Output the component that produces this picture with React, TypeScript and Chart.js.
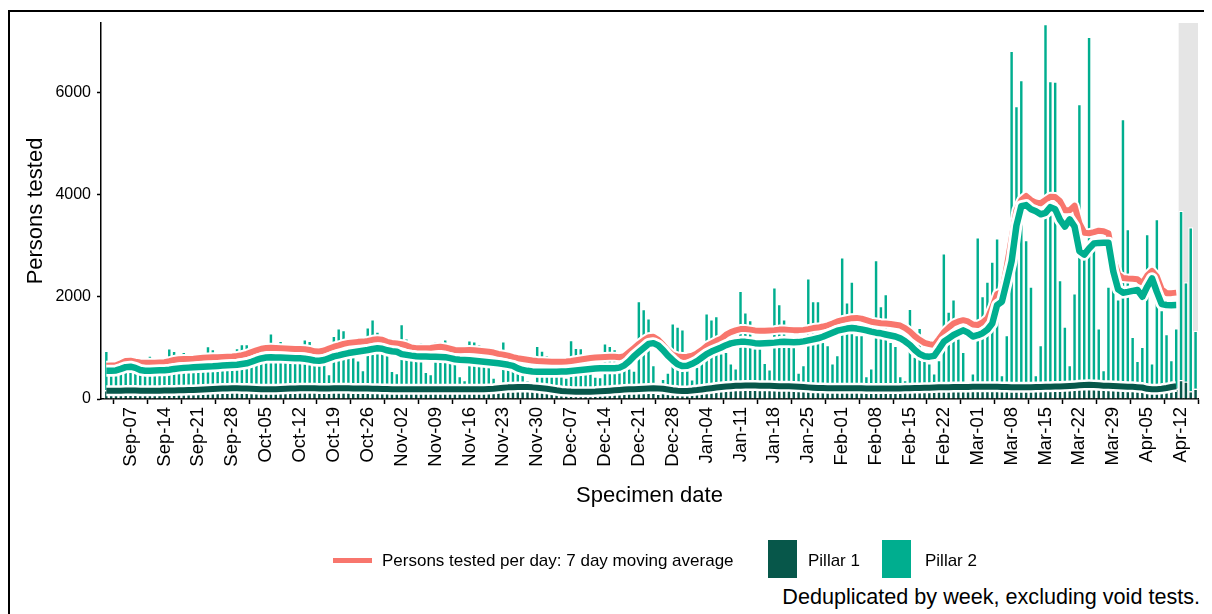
import React, { useEffect, useRef } from "react";
import { Chart, registerables } from "chart.js";

Chart.register(...registerables);

const FONT = "'Liberation Sans', Arial, sans-serif";
const SALMON = "#F8766D";
const TEAL = "#00AE8F";
const DARK = "#07574A";
const SHADE = "#E5E5E5";

const DAY_COUNT = 226; // day index 0 = 2020-09-02 .. 225 = 2021-04-15
const TICK_LABELS = [
  "Sep-07", "Sep-14", "Sep-21", "Sep-28", "Oct-05", "Oct-12", "Oct-19", "Oct-26",
  "Nov-02", "Nov-09", "Nov-16", "Nov-23", "Nov-30", "Dec-07", "Dec-14", "Dec-21",
  "Dec-28", "Jan-04", "Jan-11", "Jan-18", "Jan-25", "Feb-01", "Feb-08", "Feb-15",
  "Feb-22", "Mar-01", "Mar-08", "Mar-15", "Mar-22", "Mar-29", "Apr-05", "Apr-12",
];
const FIRST_TICK_INDEX = 5;
const TICK_STEP = 7;
const X_MIN = -1.1;
const X_MAX = 225.5;
const INCOMPLETE_FROM_INDEX = 222; // Apr-12 onwards shaded
const Y_TICKS = [0, 2000, 4000, 6000];
const Y_MAX = 7370;

// Daily persons tested, Pillar 1
const PILLAR1 = [
  170, 170, 170, 120, 110,
  180, 175, 170, 170, 165, 120, 110,
  180, 180, 180, 180, 175, 130, 120,
  200, 200, 200, 200, 195, 150, 140,
  220, 220, 215, 210, 205, 160, 150,
  210, 205, 205, 205, 205, 160, 150,
  225, 225, 225, 220, 220, 170, 160,
  225, 225, 225, 220, 215, 170, 160,
  220, 215, 210, 210, 205, 160, 150,
  205, 205, 205, 205, 205, 150, 140,
  205, 205, 205, 205, 205, 150, 140,
  210, 210, 210, 210, 210, 150, 140,
  245, 245, 245, 245, 245, 190, 180,
  220, 210, 200, 190, 180, 120, 110,
  160, 160, 160, 160, 160, 110, 100,
  180, 185, 190, 195, 200, 150, 140,
  220, 225, 230, 230, 100, 120, 110,
  180, 175, 175, 175, 100, 130, 130,
  240, 250, 255, 255, 255, 200, 190,
  280, 280, 280, 280, 280, 220, 210,
  270, 270, 265, 265, 260, 200, 190,
  240, 240, 235, 235, 230, 170, 160,
  225, 225, 225, 225, 225, 170, 160,
  220, 220, 220, 220, 220, 170, 160,
  230, 230, 235, 235, 235, 180, 170,
  250, 250, 250, 250, 250, 190, 180,
  255, 255, 255, 255, 255, 190, 180,
  250, 250, 250, 250, 250, 190, 180,
  260, 260, 260, 265, 265, 200, 190,
  290, 295, 295, 290, 285, 220, 210,
  270, 265, 265, 260, 255, 190, 180,
  210, 205, 205, 210, 230, 180, 200,
  370, 340, 150, 200,
];

// Daily persons tested, Pillar 2
const PILLAR2 = [
  777, 470, 460, 440, 430,
  680, 525, 520, 510, 685, 480, 450,
  540, 813, 767, 540, 752, 510, 480,
  560, 580, 839, 780, 565, 530, 510,
  580, 780, 863, 868, 840, 600, 570,
  868, 1082, 745, 938, 695, 600, 570,
  866, 945, 918, 660, 650, 550, 330,
  1016, 1160, 1127, 969, 785, 590, 408,
  1185, 1347, 1110, 870, 845, 395, 359,
  1265, 984, 745, 735, 906, 385, 350,
  925, 867, 965, 695, 675, 300, 232,
  940, 920, 862, 640, 620, 268, 167,
  885, 696, 535, 515, 475, 182, 170,
  825, 741, 662, 510, 500, 330, 310,
  996, 846, 840, 560, 540, 330, 330,
  911, 860, 790, 525, 500, 450, 420,
  1701, 1539, 1351, 436, 20, 278, 406,
  1303, 1243, 1191, 407, 286, 504, 582,
  1439, 1312, 1372, 640, 672, 499, 411,
  1843, 1419, 1268, 713, 713, 492, 372,
  1919, 1592, 1297, 760, 765, 316, 476,
  2125, 1681, 1686, 888, 828, 529, 702,
  2552, 1670, 2075, 1029, 1029, 281, 441,
  2504, 1603, 1838, 903, 825, 281, 212,
  1540, 600, 1163, 525, 464, 323, 594,
  2605, 1462, 1704, 939, 677, 150, 323,
  2914, 1764, 2045, 2437, 2895, 280, 1074,
  6577, 5493, 6002, 2866, 1952, 280, 878,
  7090, 5973, 5960, 2067, 1153, 466, 1881,
  5492, 2605, 6806, 2663, 1100, 348, 1992,
  2180, 1689, 5223, 3072, 966, 561, 845,
  3024, 495, 3323, 1534, 1044, 584, 1185,
  3321, 1947, 3215, 1139,
];

// 7 day moving averages (to 2021-04-11)
const MA_TOTAL = [
  650, 655, 660, 700, 745,
  750, 730, 715, 710, 710, 712, 715,
  720, 740, 765, 780, 785, 785, 790,
  800, 810, 815, 818, 820, 825, 830,
  835, 845, 860, 885, 920, 955, 985,
  1000, 1005, 1000, 995, 990, 985, 982,
  980, 975, 960, 935, 930, 950, 990,
  1025, 1050, 1080, 1100, 1110, 1120, 1125,
  1140, 1160, 1170, 1160, 1120, 1100, 1090,
  1075, 1050, 1010, 995, 993, 993, 1000,
  1015, 1025, 1010, 985, 960, 955, 958,
  960, 955, 945, 935, 925, 910, 885,
  870, 850, 820, 800, 785, 770, 755,
  745, 740, 735, 732, 730, 730, 735,
  745, 760, 775, 790, 805, 815, 820,
  822, 826, 828, 820, 840, 920, 1000,
  1080, 1150, 1210, 1220, 1160, 1060, 950,
  865, 835, 823, 830, 850, 895, 960,
  1040, 1090, 1140, 1180, 1260, 1310, 1345,
  1370, 1370, 1360, 1345, 1340, 1340, 1345,
  1350, 1360, 1360, 1355, 1350, 1350, 1355,
  1370, 1390, 1400, 1420, 1445, 1480, 1520,
  1545, 1565, 1585, 1590, 1575, 1545, 1515,
  1500, 1485, 1480, 1470, 1455, 1440, 1390,
  1320, 1230, 1160, 1100, 1075, 1058, 1180,
  1310, 1400, 1480, 1520, 1545, 1520, 1460,
  1450, 1500, 1580, 1800, 2060, 2100, 2600,
  3150, 3700, 3900, 3980, 3900, 3850, 3835,
  3900, 3965, 3960, 3880, 3700, 3700, 3790,
  3450, 3260, 3250, 3270, 3300, 3290, 3250,
  2750, 2450, 2370, 2360, 2355, 2346, 2267,
  2420, 2510, 2400, 2150, 2075, 2075, 2085,
];

const MA_PILLAR2 = [
  555, 555, 560, 590, 625,
  633, 610, 570, 555, 555, 560, 562,
  565, 575, 590, 600, 610, 615, 620,
  625, 630, 635, 640, 648, 655, 660,
  665, 672, 685, 700, 730, 765, 795,
  812, 817, 815, 812, 808, 805, 800,
  797, 790, 775, 755, 750, 765, 800,
  835, 855, 880, 900, 915, 930, 945,
  960, 980, 993, 985, 955, 935, 925,
  880, 865, 850, 840, 835, 833, 830,
  828, 825, 820, 800, 780, 770, 764,
  760, 750, 740, 730, 720, 712, 700,
  685, 670, 650, 600, 568, 552, 540,
  535, 535, 535, 535, 535, 537, 540,
  550, 560, 570, 580, 590, 598, 601,
  601, 601, 602, 615, 660, 740, 840,
  920, 1000, 1080, 1095, 1050, 960, 850,
  760, 680, 645, 650, 690, 740, 810,
  880, 930, 970, 1010, 1055, 1090, 1110,
  1120, 1120, 1110, 1095, 1090, 1095, 1100,
  1105, 1115, 1120, 1115, 1110, 1115, 1130,
  1150, 1170, 1190, 1220, 1260, 1300, 1340,
  1360, 1380, 1392, 1380, 1365, 1345, 1320,
  1300, 1287, 1265, 1245, 1225, 1189, 1130,
  1058, 960, 880, 840, 830, 845, 980,
  1123, 1190, 1254, 1300, 1345, 1300, 1225,
  1250, 1290, 1360, 1480, 1842, 1910, 2300,
  2700, 3400, 3780, 3800, 3720, 3680, 3620,
  3650, 3760, 3720, 3510, 3380, 3520, 3380,
  2900, 2830, 2950, 3050, 3060, 3064, 3064,
  2500, 2150, 2084, 2100, 2120, 2136, 2005,
  2200, 2365, 2100, 1860, 1842, 1840, 1842,
];

const MA_PILLAR1 = [
  160, 160, 162, 163, 165,
  168, 165, 163, 162, 162, 163, 163,
  165, 166, 168, 170, 172, 175, 178,
  182, 186, 190, 195, 200, 205, 208,
  210, 210, 208, 205, 200, 195, 192,
  190, 190, 192, 195, 200, 205, 208,
  210, 210, 210, 209, 208, 208, 208,
  209, 210, 210, 209, 208, 207, 206,
  205, 203, 200, 198, 195, 192, 190,
  190, 190, 190, 190, 190, 190, 190,
  190, 190, 190, 191, 192, 192, 192,
  192, 192, 192, 192, 195, 200, 210,
  220, 228, 232, 235, 235, 233, 228,
  220, 210, 200, 185, 170, 158, 150,
  145, 143, 142, 142, 143, 145, 150,
  155, 162, 170, 178, 185, 190, 192,
  195, 200, 205, 210, 208, 200, 185,
  170, 160, 157, 158, 165, 175, 188,
  200, 212, 225, 235, 245, 252, 258,
  262, 264, 265, 264, 262, 260, 258,
  255, 252, 250, 248, 245, 240, 235,
  228, 222, 218, 215, 212, 210, 210,
  210, 210, 210, 210, 210, 208, 206,
  205, 205, 205, 206, 207, 208, 210,
  212, 215, 218, 220, 222, 225, 228,
  230, 232, 234, 235, 236, 237, 238,
  240, 240, 240, 240, 238, 236, 235,
  232, 230, 230, 230, 232, 234, 236,
  238, 240, 243, 246, 250, 255, 262,
  270, 276, 278, 275, 268, 262, 258,
  255, 250, 246, 242, 238, 232, 225,
  200, 192, 190, 200, 215, 235, 250,
];

const TICK_INDICES = TICK_LABELS.map((_, k) => FIRST_TICK_INDEX + k * TICK_STEP);
const toPoints = (arr: number[]) => arr.map((y, i) => ({ x: i, y }));

const shadePlugin = {
  id: "incompleteShade",
  beforeDatasetsDraw(chart: any) {
    const { ctx, chartArea, scales } = chart;
    const left = scales.x.getPixelForValue(INCOMPLETE_FROM_INDEX - 0.5);
    ctx.save();
    ctx.fillStyle = SHADE;
    ctx.fillRect(left, chartArea.top, chartArea.right - left, chartArea.bottom - chartArea.top - 1);
    ctx.restore();
  },
};

function lineSet(label: string, data: number[], color: string, width: number, stack: string, order: number) {
  return {
    type: "line" as const,
    label,
    data: toPoints(data),
    borderColor: color,
    backgroundColor: color,
    borderWidth: width,
    pointRadius: 0,
    pointHoverRadius: 0,
    tension: 0,
    borderJoinStyle: "round" as const,
    borderCapStyle: "butt" as const,
    fill: false,
    stack,
    order,
  };
}

export default function App() {
  const ref = useRef<HTMLCanvasElement | null>(null);

  useEffect(() => {
    if (!ref.current) return;
    const barCommon = {
      type: "bar" as const,
      barPercentage: 1,
      categoryPercentage: 1,
      borderColor: "#FFFFFF",
      borderWidth: 1.2,
      borderSkipped: "start" as const,
      inflateAmount: 0,
      stack: "bars",
    };
    const chart = new Chart(ref.current, {
      type: "bar",
      data: {
        datasets: [
          { ...barCommon, label: "Pillar 1", data: toPoints(PILLAR1), backgroundColor: DARK, order: 10 },
          { ...barCommon, label: "Pillar 2", data: toPoints(PILLAR2), backgroundColor: TEAL, order: 11 },
          lineSet("halo-total", MA_TOTAL, "#FFFFFF", 10, "l1", 6),
          lineSet("Persons tested per day: 7 day moving average", MA_TOTAL, SALMON, 6, "l2", 5),
          lineSet("halo-p2", MA_PILLAR2, "#FFFFFF", 12, "l3", 4),
          lineSet("Pillar 2 moving average", MA_PILLAR2, TEAL, 6.5, "l4", 3),
          lineSet("halo-p1", MA_PILLAR1, "#FFFFFF", 11, "l5", 2),
          lineSet("Pillar 1 moving average", MA_PILLAR1, DARK, 6, "l6", 1),
        ] as any,
      },
      options: {
        animation: false,
        responsive: false,
        maintainAspectRatio: false,
        layout: { padding: { top: 11, right: 10, left: 0, bottom: 0 } },
        plugins: { legend: { display: false }, tooltip: { enabled: false } },
        scales: {
          x: {
            type: "linear",
            stacked: true,
            min: X_MIN,
            max: X_MAX,
            offset: false,
            afterBuildTicks: (s: any) => {
              s.ticks = TICK_INDICES.map((v) => ({ value: v }));
            },
            grid: {
              display: true,
              drawOnChartArea: false,
              drawTicks: true,
              tickLength: 5,
              tickColor: "#000",
              tickWidth: 1.5,
            },
            border: { display: true, color: "#000", width: 1.5 },
            ticks: {
              autoSkip: false,
              maxRotation: 90,
              minRotation: 90,
              color: "#000",
              padding: 3,
              font: { family: FONT, size: 18.5 },
              callback: (v: any) => TICK_LABELS[Math.round((v - FIRST_TICK_INDEX) / TICK_STEP)],
            },
            title: {
              display: true,
              text: "Specimen date",
              color: "#000",
              font: { family: FONT, size: 22 },
              padding: { top: 0, bottom: 33 },
            },
            afterFit: (s: any) => {
              s.height = 143;
              s.paddingLeft = 0;
              s.paddingRight = 0;
            },
          },
          y: {
            stacked: true,
            min: 0,
            max: Y_MAX,
            afterBuildTicks: (s: any) => {
              s.ticks = Y_TICKS.map((v) => ({ value: v }));
            },
            grid: {
              display: true,
              drawOnChartArea: false,
              drawTicks: true,
              tickLength: 4,
              tickColor: "#000",
              tickWidth: 1.5,
            },
            border: { display: true, color: "#000", width: 1.5 },
            ticks: {
              color: "#000",
              padding: 6,
              font: { family: FONT, size: 16 },
              callback: (v: any) => String(v),
            },
            title: {
              display: true,
              text: "Persons tested",
              color: "#000",
              font: { family: FONT, size: 22 },
              padding: { top: 13, bottom: 0 },
            },
            afterFit: (s: any) => {
              s.width = 91;
              s.paddingTop = 0;
              s.paddingBottom = 0;
            },
          },
        },
      } as any,
      plugins: [shadePlugin],
    });
    return () => chart.destroy();
  }, []);

  const text: React.CSSProperties = {
    position: "absolute",
    fontFamily: FONT,
    color: "#000",
    whiteSpace: "nowrap",
    lineHeight: 1,
  };

  return (
    <div
      style={{
        position: "relative",
        width: 1198,
        height: 620,
        marginTop: 2,
        border: "2px solid #000",
        background: "#fff",
        boxSizing: "content-box",
      }}
    >
      <canvas ref={ref} width={1198} height={530} style={{ position: "absolute", left: 0, top: 0 }} />
      <div style={{ position: "absolute", left: 323, top: 546, width: 39, height: 5, background: SALMON }} />
      <div style={{ ...text, left: 372, top: 540, fontSize: 17 }}>Persons tested per day: 7 day moving average</div>
      <div style={{ position: "absolute", left: 758, top: 528, width: 29, height: 38, background: DARK }} />
      <div style={{ ...text, left: 798, top: 540, fontSize: 17 }}>Pillar 1</div>
      <div style={{ position: "absolute", left: 872, top: 528, width: 29, height: 38, background: TEAL }} />
      <div style={{ ...text, left: 915, top: 540, fontSize: 17 }}>Pillar 2</div>
      <div style={{ ...text, right: 8, top: 574, fontSize: 21.6 }}>Deduplicated by week, excluding void tests.</div>
    </div>
  );
}
